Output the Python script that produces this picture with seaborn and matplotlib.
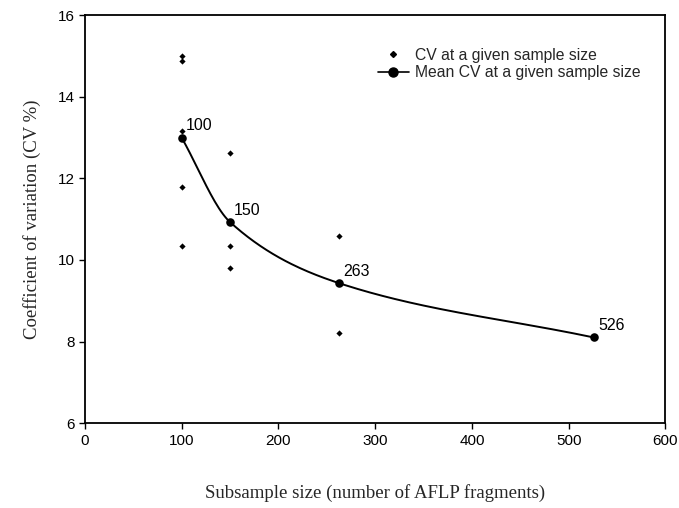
import numpy as np
import pandas as pd
import matplotlib
matplotlib.use("Agg")
import matplotlib.pyplot as plt
from matplotlib.lines import Line2D
import seaborn as sns

# Individual CV values for each subsample size
cv_sizes = [100, 100, 100, 100, 100, 150, 150, 150, 263, 263, 526]
cv_values = [15.0, 14.87, 13.16, 11.78, 10.35, 12.62, 10.35, 9.81, 10.59, 8.21, 8.1]

# Mean CV per subsample size
mean_sizes = [100, 150, 263, 526]
mean_values = [13.0, 10.93, 9.43, 8.1]
mean_labels = ["100", "150", "263", "526"]

x_ticks = [0, 100, 200, 300, 400, 500, 600]
y_ticks = [6, 8, 10, 12, 14, 16]


def monotone_curve(x, y, n=200):
    """Smooth monotone cubic (Fritsch-Carlson) through the given points."""
    x = np.asarray(x, float)
    y = np.asarray(y, float)
    h = np.diff(x)
    d = np.diff(y) / h
    m = np.zeros_like(y)
    m[0], m[-1] = d[0], d[-1]
    for i in range(1, len(x) - 1):
        if d[i - 1] * d[i] > 0:
            w1 = 2 * h[i] + h[i - 1]
            w2 = h[i] + 2 * h[i - 1]
            m[i] = (w1 + w2) / (w1 / d[i - 1] + w2 / d[i])
    xs = np.linspace(x[0], x[-1], n)
    idx = np.clip(np.searchsorted(x, xs) - 1, 0, len(x) - 2)
    t = (xs - x[idx]) / h[idx]
    h00 = 2 * t**3 - 3 * t**2 + 1
    h10 = t**3 - 2 * t**2 + t
    h01 = -2 * t**3 + 3 * t**2
    h11 = t**3 - t**2
    ys = (h00 * y[idx] + h10 * h[idx] * m[idx]
          + h01 * y[idx + 1] + h11 * h[idx] * m[idx + 1])
    return xs, ys


sns.set_theme(style="white")
plt.rcParams["font.family"] = ["Liberation Sans", "DejaVu Sans"]

fig = plt.figure(figsize=(6.79, 5.08), dpi=100)
ax = fig.add_axes([0.125, 0.167, 0.855, 0.803])

pts = pd.DataFrame({"size": cv_sizes, "cv": cv_values})
means = pd.DataFrame({"size": mean_sizes, "cv": mean_values})

sns.scatterplot(data=pts, x="size", y="cv", ax=ax, marker="D", s=10,
                color="black", edgecolor="black", linewidth=0, zorder=3)

cx, cy = monotone_curve(mean_sizes, mean_values)
curve = pd.DataFrame({"size": cx, "cv": cy})
sns.lineplot(data=curve, x="size", y="cv", ax=ax, color="black",
             linewidth=1.4, zorder=2)
sns.scatterplot(data=means, x="size", y="cv", ax=ax, marker="o", s=38,
                color="black", edgecolor="black", linewidth=0, zorder=4)

for xv, yv, lab in zip(mean_sizes, mean_values, mean_labels):
    ax.annotate(lab, (xv, yv), xytext=(3, 3), textcoords="offset points",
                fontsize=11.5, color="black", ha="left", va="bottom")

ax.set_xlim(0, 600)
ax.set_ylim(6, 16)
ax.set_xticks(x_ticks)
ax.set_yticks(y_ticks)
ax.tick_params(axis="both", direction="out", length=4, width=1,
               labelsize=11, colors="black", bottom=True, left=True)
for sp in ax.spines.values():
    sp.set_color("black")
    sp.set_linewidth(1.3)

ax.set_xlabel("Subsample size (number of AFLP fragments)",
              family="Liberation Serif", fontsize=13.5, labelpad=26)
ax.set_ylabel("Coefficient of variation (CV %)",
              family="Liberation Serif", fontsize=13.5, labelpad=12)

handles = [
    Line2D([], [], linestyle="none", marker="D", markersize=3,
           color="black"),
    Line2D([], [], linestyle="-", marker="o", markersize=6.5,
           color="black", linewidth=1.2),
]
ax.legend(handles, ["CV at a given sample size",
                    "Mean CV at a given sample size"],
          loc="upper left", bbox_to_anchor=(0.48, 0.955), frameon=False,
          fontsize=11.3, handlelength=2.0, handletextpad=0.4,
          labelspacing=0.15)

fig.savefig("out.png", dpi=100, facecolor="white")
